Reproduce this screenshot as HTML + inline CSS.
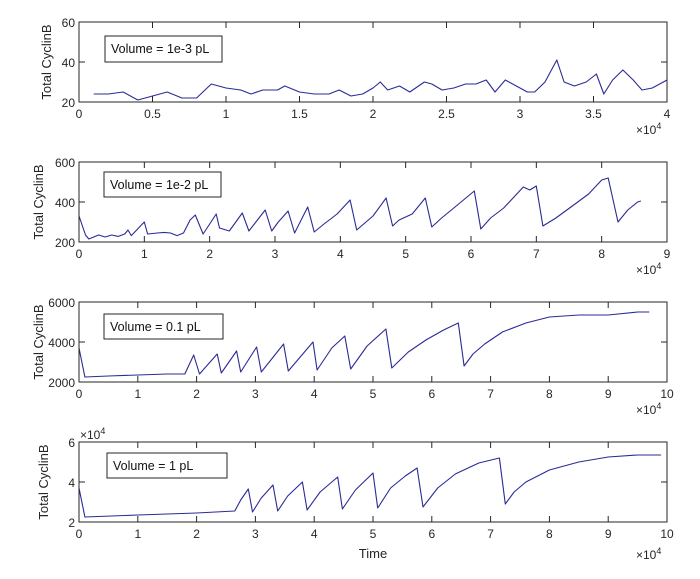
<!DOCTYPE html>
<html><head><meta charset="utf-8"><style>
body{margin:0;background:#fff;}
svg{display:block;font-family:"Liberation Sans",sans-serif;}
</style></head><body>
<svg id="fig" width="700" height="579" viewBox="0 0 700 579"></svg>
<script>
// Panel 1: Volume = 1e-3 pL (time in 1e4 units)
const p1Time=[0.1,0.2,0.3,0.4,0.5,0.6,0.7,0.8,0.9,1.0,1.1,1.17,1.25,1.35,1.4,1.5,1.6,1.7,1.77,1.85,1.93,2.0,2.05,2.1,2.18,2.25,2.35,2.4,2.47,2.55,2.63,2.7,2.77,2.83,2.9,3.0,3.05,3.1,3.17,3.25,3.3,3.37,3.45,3.52,3.57,3.63,3.7,3.77,3.83,3.9,4.0];
const p1Vals=[24,24,25,21,23,25,22,22,29,27,26,24,26,26,28,25,24,24,26,23,24,27,30,26,28,25,30,29,26,27,29,29,31,25,31,27,25,25,30,41,30,28,30,34,24,31,36,31,26,27,31];
// Panel 2: Volume = 1e-2 pL
const p2Time=[0,0.1,0.15,0.3,0.4,0.5,0.6,0.7,0.75,0.8,1.0,1.05,1.2,1.3,1.4,1.5,1.6,1.7,1.78,1.9,2.0,2.1,2.15,2.3,2.5,2.6,2.85,2.95,3.05,3.2,3.3,3.5,3.6,3.75,3.95,4.15,4.25,4.5,4.7,4.8,4.9,5.1,5.3,5.4,5.55,5.7,6.05,6.15,6.3,6.5,6.8,6.9,7.0,7.1,7.3,7.55,7.8,8.0,8.1,8.25,8.4,8.55,8.6];
const p2Vals=[330,235,215,235,225,235,228,240,260,232,300,240,245,248,245,232,245,310,335,240,290,340,270,255,345,255,360,255,300,355,245,375,250,290,340,410,260,330,420,280,310,340,420,275,320,360,455,265,320,370,475,460,480,280,320,380,440,510,520,300,360,400,405];
// Panel 3: Volume = 0.1 pL
const p3Time=[0,0.1,0.5,1,1.5,1.8,1.95,2.05,2.35,2.42,2.68,2.75,3.02,3.1,3.48,3.56,3.98,4.05,4.3,4.52,4.62,4.9,5.22,5.32,5.6,5.9,6.2,6.45,6.55,6.7,6.9,7.2,7.6,8,8.5,9,9.5,9.7];
const p3Vals=[3700,2250,2300,2350,2400,2400,3350,2400,3400,2450,3550,2500,3750,2500,3900,2550,4000,2600,3700,4300,2650,3800,4650,2700,3500,4100,4600,4950,2800,3400,3900,4500,4950,5250,5350,5350,5500,5500];
// Panel 4: Volume = 1 pL (values in 1e4)
const p4Time=[0,0.1,1,2,2.65,2.75,2.88,2.95,3.1,3.3,3.38,3.55,3.8,3.88,4.1,4.4,4.48,4.7,5.0,5.08,5.3,5.55,5.75,5.85,6.1,6.4,6.8,7.15,7.25,7.4,7.6,8,8.5,9,9.5,9.9];
const p4Vals=[3.7,2.25,2.35,2.45,2.55,3.1,3.65,2.5,3.2,3.85,2.55,3.3,4.0,2.6,3.5,4.25,2.65,3.6,4.45,2.7,3.7,4.3,4.7,2.75,3.7,4.4,4.95,5.2,2.9,3.5,4.0,4.6,5.0,5.25,5.35,5.35];

const xTicks1=[0,0.5,1,1.5,2,2.5,3,3.5,4], xLab1=["0","0.5","1","1.5","2","2.5","3","3.5","4"];
const xTicks2=[0,1,2,3,4,5,6,7,8,9];
const xTicks3=[0,1,2,3,4,5,6,7,8,9,10];
const yTicks1=[20,40,60], yTicks2=[200,400,600], yTicks3=[2000,4000,6000], yTicks4=[2,4,6];
const legends=["Volume = 1e-3 pL","Volume = 1e-2 pL","Volume = 0.1 pL","Volume = 1 pL"];

const NS="http://www.w3.org/2000/svg";
const svg=document.getElementById('fig');
function mk(tag,attrs,parent){const e=document.createElementNS(NS,tag);for(const k in attrs)e.setAttribute(k,attrs[k]);(parent||svg).appendChild(e);return e;}

const panels=[
 {t:p1Time,v:p1Vals,xmax:4,xt:xTicks1,xl:xLab1,yt:yTicks1,top:22,leg:[105,36,117,26],name:'panel-1e-3'},
 {t:p2Time,v:p2Vals,xmax:9,xt:xTicks2,xl:xTicks2.map(String),yt:yTicks2,top:162,leg:[104,172,117,25],name:'panel-1e-2'},
 {t:p3Time,v:p3Vals,xmax:10,xt:xTicks3,xl:xTicks3.map(String),yt:yTicks3,top:302,leg:[104,314,119,25],name:'panel-0-1'},
 {t:p4Time,v:p4Vals,xmax:10,xt:xTicks3,xl:xTicks3.map(String),yt:yTicks4,top:442,leg:[107,453,120,25],name:'panel-1'}
];
const L=79,R=667,H=80;
panels.forEach((p,i)=>{
  const g=mk('g',{});
  
  
  const ymin=p.yt[0],ymax=p.yt[p.yt.length-1];
  const xs=x=>L+(x/p.xmax)*(R-L);
  const ys=y=>p.top+H-(y-ymin)/(ymax-ymin)*H;
  const bot=p.top+H;
  const pts=p.t.map((t,k)=>xs(t).toFixed(1)+','+ys(p.v[k]).toFixed(1)).join(' ');
  const line=mk('polyline',{points:pts,fill:'none',stroke:'#2b2b96','stroke-width':1.1,'stroke-linejoin':'round'},g);
  
  
  const box=mk('rect',{x:L,y:p.top,width:R-L,height:H,fill:'none',stroke:'#262626','stroke-width':1},g);
  
  
  p.xt.forEach((t,k)=>{
    const x=xs(t);
    mk('line',{x1:x,y1:bot,x2:x,y2:bot-6,stroke:'#262626'},g);
    mk('line',{x1:x,y1:p.top,x2:x,y2:p.top+6,stroke:'#262626'},g);
    const tx=mk('text',{x:x,y:bot+16,'font-size':12,'text-anchor':'middle',fill:'#262626'},g);
    tx.textContent=p.xl[k];
    
    
  });
  p.yt.forEach(t=>{
    const y=ys(t);
    mk('line',{x1:L,y1:y,x2:L+6,y2:y,stroke:'#262626'},g);
    mk('line',{x1:R,y1:y,x2:R-6,y2:y,stroke:'#262626'},g);
    const tx=mk('text',{x:L-4,y:y+5,'font-size':12,'text-anchor':'end',fill:'#262626'},g);
    tx.textContent=String(t);
    
    
  });
  const yl=mk('text',{x:0,y:0,'font-size':13,'text-anchor':'middle',fill:'#262626',transform:`translate(${i==3?48:i==0?51:43},${p.top+40}) rotate(-90)`},g);
  yl.textContent='Total CyclinB';
  
  
  const ex=mk('text',{x:636,y:bot+(i==3?37:32),'font-size':12,fill:'#262626'},g);
  ex.innerHTML='×10<tspan dy="-5" font-size="9">4</tspan>';
  
  
  const lg=mk('g',{},g);
  
  
  mk('rect',{x:p.leg[0],y:p.leg[1],width:p.leg[2],height:p.leg[3],fill:'#fff',stroke:'#262626'},lg);
  const lt=mk('text',{x:p.leg[0]+6,y:p.leg[1]+17,'font-size':12.5,fill:'#111'},lg);
  lt.textContent=legends[i];
});
const ey=mk('text',{x:80,y:439,'font-size':12,fill:'#262626'});
ey.innerHTML='×10<tspan dy="-5" font-size="9">4</tspan>';


const xt=mk('text',{x:373,y:558,'font-size':13,'text-anchor':'middle',fill:'#262626'});
xt.textContent='Time';


</script>
</body></html>
